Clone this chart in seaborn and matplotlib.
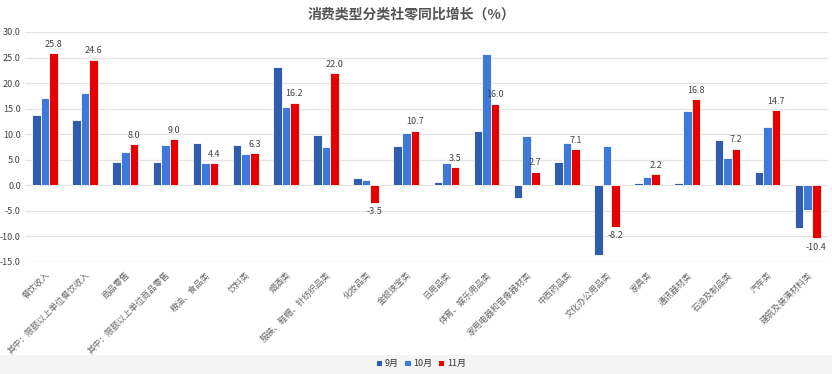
import pandas as pd
import matplotlib.pyplot as plt
import seaborn as sns
from matplotlib.patches import Rectangle

# 数据：各消费类型社零同比增长（%）
categories = ["餐饮收入", "其中：限额以上单位餐饮收入", "商品零售", "其中：限额以上单位商品零售",
              "粮油、食品类", "饮料类", "烟酒类", "服装、鞋帽、针纺织品类", "化妆品类", "金银珠宝类",
              "日用品类", "体育、娱乐用品类", "家用电器和音像器材类", "中西药品类", "文化办公用品类",
              "家具类", "通讯器材类", "石油及制品类", "汽车类", "建筑及装潢材料类"]
sep = [13.7, 12.7, 4.5, 4.6, 8.2, 7.9, 23.1, 9.8, 1.5, 7.6,
       0.7, 10.7, -2.4, 4.5, -13.6, 0.5, 0.4, 8.9, 2.7, -8.3]
oct_ = [17.1, 18.0, 6.5, 7.8, 4.3, 6.2, 15.3, 7.5, 1.0, 10.3,
        4.3, 25.7, 9.6, 8.2, 7.6, 1.6, 14.6, 5.4, 11.4, -4.8]
nov = [25.8, 24.6, 8.0, 9.0, 4.4, 6.3, 16.2, 22.0, -3.5, 10.7,
       3.5, 16.0, 2.7, 7.1, -8.2, 2.2, 16.8, 7.2, 14.7, -10.4]
months = ["9月", "10月", "11月"]
colors = ["#2F5CAD", "#3C79D9", "#E60000"]

df = pd.DataFrame({"类别": categories, "9月": sep, "10月": oct_, "11月": nov})
df_long = df.melt(id_vars="类别", var_name="月份", value_name="增长")

sns.set_style("white")
plt.rcParams["font.family"] = ["Noto Sans CJK SC", "DejaVu Sans"]

fig = plt.figure(figsize=(8.32, 3.74), dpi=100)
# 底部浅灰色条带
fig.patches.append(Rectangle((0, 0), 1, 0.05, transform=fig.transFigure,
                             facecolor="#f4f4f4", edgecolor="none", zorder=0))
ax = fig.add_axes([0.030, 0.2995, 0.965, 0.6150])

sns.barplot(data=df_long, x="类别", y="增长", hue="月份", hue_order=months,
            palette=colors, width=0.64, edgecolor="white", linewidth=0.6,
            saturation=1, ax=ax, legend=True)

# 只给 11月 标数值
ax.bar_label(ax.containers[2], fmt="%.1f", padding=3, fontsize=6.5, color="#444444")

ax.set_ylim(-15, 30)
ax.set_xlim(-0.5, 19.5)
ax.set_yticks(range(-15, 31, 5))
ax.set_yticklabels([f"{v:.1f}" for v in range(-15, 31, 5)], fontsize=6.5, color="#444444")
ax.yaxis.grid(True, color="#e3e3e3", linewidth=0.9)
ax.set_axisbelow(True)
ax.tick_params(axis="both", length=0, pad=3)
ax.set_xlabel("")
ax.set_ylabel("")
ax.set_xticks(range(len(categories)))
ax.set_xticklabels(categories, rotation=45, ha="right", rotation_mode="anchor",
                   fontsize=6.2, color="#666666")
ax.tick_params(axis="x", pad=6)
for s in ax.spines.values():
    s.set_visible(False)

# 图例放到底部中间
leg = ax.get_legend()
handles = leg.legend_handles
leg.remove()
fig.legend(handles=handles, labels=months, loc="center", bbox_to_anchor=(0.506, 0.028),
           ncol=3, frameon=False, fontsize=6.5, handlelength=0.7, handleheight=0.7,
           handletextpad=0.3, columnspacing=0.6, labelcolor="#333333")

fig.text(0.495, 0.962, "消费类型分类社零同比增长（%）", ha="center", va="center",
         fontsize=10, fontweight="bold", color="#555555")

plt.savefig("out.png", dpi=100)
